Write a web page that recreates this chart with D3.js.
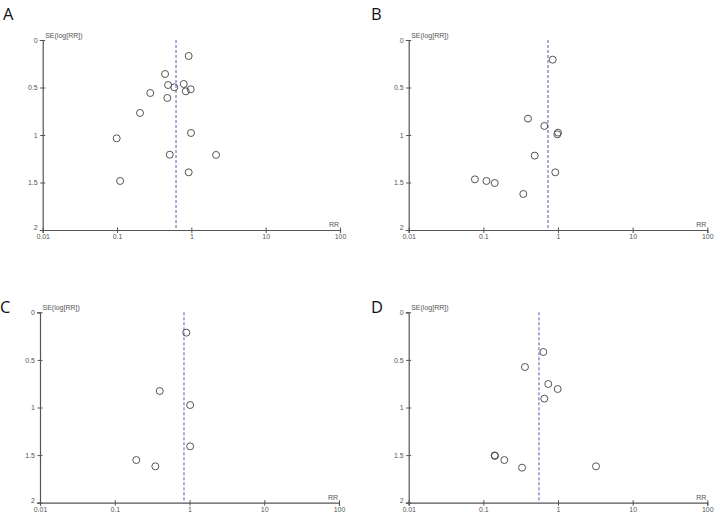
<!DOCTYPE html>
<html>
<head>
<meta charset="utf-8">
<script src="https://cdn.jsdelivr.net/npm/d3@7"></script>
<style>
  body { margin: 0; background: #fff; }
  svg { display: block; }
  .tick text { font-family: "Liberation Sans", Arial, sans-serif; font-size: 7px; fill: #555; }
  .lbl { font-family: "Liberation Sans", Arial, sans-serif; font-size: 7px; fill: #555; }
  .panel-letter { font-family: "Open Sans", "Liberation Sans", sans-serif; font-size: 16.5px; fill: #111; }
</style>
</head>
<body>
<div id="container"></div>
<script>
// study points (RR, SE of log RR)
var rrA = [0.92, 0.443, 0.486, 0.59, 0.79, 0.98, 0.84, 0.28, 0.475, 0.204, 0.099, 0.99, 0.512, 2.15, 0.92, 0.11];
var seA = [0.168, 0.358, 0.474, 0.498, 0.463, 0.519, 0.54, 0.558, 0.61, 0.768, 1.035, 0.979, 1.207, 1.21, 1.393, 1.484];

var rrB = [0.85, 0.396, 0.656, 1.0, 0.98, 0.487, 0.92, 0.077, 0.11, 0.142, 0.343];
var seB = [0.207, 0.828, 0.905, 0.975, 0.993, 1.217, 1.393, 1.467, 1.484, 1.505, 1.621];

var rrC = [0.906, 0.4, 1.02, 1.02, 0.194, 0.349];
var seC = [0.214, 0.827, 0.974, 1.408, 1.552, 1.618];

var rrD = [0.636, 0.361, 0.741, 0.99, 0.656, 0.142, 0.143, 0.191, 0.33, 3.23];
var seD = [0.417, 0.575, 0.753, 0.806, 0.907, 1.504, 1.508, 1.552, 1.632, 1.618];

// pooled RR (dashed vertical line)
var pooled = [0.622, 0.734, 0.844, 0.556];

var panelLetters = ["A", "B", "C", "D"];
var xTicks = [0.01, 0.1, 1, 10, 100];
var xTickLabels = ["0.01", "0.1", "1", "10", "100"];
var yTicks = [0, 0.5, 1, 1.5, 2];
var yTickLabels = ["0", "0.5", "1", "1.5", "2"];

var width = 714,
	height = 512;

// plot areas for each panel
var boxes = [
	{ x0: 42.7, x1: 340, y0: 40, y1: 230, lx: 3, ly: 20 },
	{ x0: 408.7, x1: 707.3, y0: 40, y1: 230, lx: 371, ly: 20 },
	{ x0: 40, x1: 339, y0: 312.3, y1: 502.7, lx: 0, ly: 313 },
	{ x0: 408.7, x1: 707.3, y0: 312.3, y1: 502.7, lx: 371, ly: 313 }
];

var rrs = [rrA, rrB, rrC, rrD];
var ses = [seA, seB, seC, seD];

var svg = d3.select("#container")
	.append("svg")
		.attr("width", width)
		.attr("height", height);

boxes.forEach(function(b, p) {
	var xScale = d3.scaleLog()
		.domain([0.01, 100])
		.range([b.x0, b.x1]);

	var yScale = d3.scaleLinear()
		.domain([0, 2])
		.range([b.y0, b.y1]);

	var g = svg.append("g");

	// panel letter
	g.append("text")
		.attr("class", "panel-letter")
		.attr("x", b.lx)
		.attr("y", b.ly)
		.text(panelLetters[p]);

	// y axis
	var yAxis = g.append("g")
		.attr("transform", "translate(" + b.x0 + ",0)")
		.call(d3.axisLeft(yScale)
			.tickValues(yTicks)
			.tickFormat(function(d, i) { return yTickLabels[i]; })
			.tickSize(3)
			.tickPadding(2));
	yAxis.select(".domain").attr("stroke", "#555").attr("stroke-width", 1.2);
	yAxis.selectAll(".tick line").attr("x1", 2.5).attr("x2", -2.5).attr("stroke", "#555");
	yAxis.selectAll(".tick text").attr("dy", "0.3em");
	yAxis.selectAll(".tick").filter(function(d) { return d === 2; })
		.select("text").attr("dy", "-0.05em");

	// x axis
	var xAxis = g.append("g")
		.attr("transform", "translate(0," + b.y1 + ")")
		.call(d3.axisBottom(xScale)
			.tickValues(xTicks)
			.tickFormat(function(d, i) { return xTickLabels[i]; })
			.tickSize(3)
			.tickPadding(1));
	xAxis.select(".domain").attr("stroke", "#555").attr("stroke-width", 1.2);
	xAxis.selectAll(".tick line").attr("y1", -2.5).attr("y2", 3).attr("stroke", "#555");

	// axis titles
	g.append("text")
		.attr("class", "lbl")
		.attr("x", b.x0 + 2.5)
		.attr("y", b.y0 - 2)
		.text("SE(log[RR])");
	g.append("text")
		.attr("class", "lbl")
		.attr("x", b.x1 - 1)
		.attr("y", b.y1 - 3)
		.attr("text-anchor", "end")
		.text("RR");

	// pooled estimate
	g.append("line")
		.attr("x1", xScale(pooled[p]))
		.attr("x2", xScale(pooled[p]))
		.attr("y1", yScale(0))
		.attr("y2", yScale(2))
		.attr("stroke", "#5a5ab4")
		.attr("stroke-width", 1)
		.attr("stroke-dasharray", "3,2");

	// studies
	g.selectAll("circle")
		.data(rrs[p])
		.enter().append("circle")
		.attr("cx", function(d) { return xScale(d); })
		.attr("cy", function(d, i) { return yScale(ses[p][i]); })
		.attr("r", 3.5)
		.attr("fill", "none")
		.attr("stroke", "#444")
		.attr("stroke-width", 0.9);
});
</script>
</body>
</html>
